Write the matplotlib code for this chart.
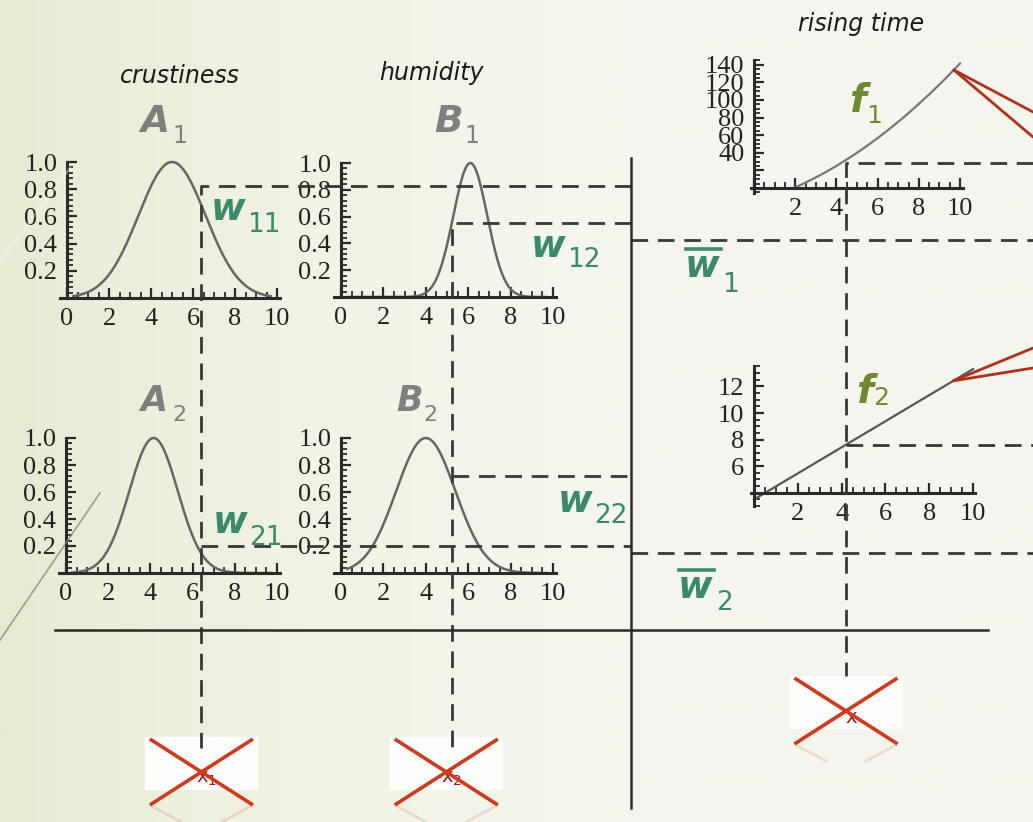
import numpy as np
import matplotlib.pyplot as plt
from matplotlib.ticker import MultipleLocator, FixedLocator, FixedFormatter

W, H = 1033, 822

# antecedent membership functions, gaussian (centre, spread)
A1 = (5.0, 1.6)
A2 = (4.15, 1.15)
B1 = (6.1, 0.8)
B2 = (4.0, 1.4)

# crisp inputs: crustiness, humidity, rising time
x1, x2, x3 = 6.4, 5.25, 4.2

# membership degrees carried across by the dashed guides
w11, w12 = 0.82, 0.55
w21, w22 = 0.20, 0.72
wbar1, wbar2 = 0.425, 0.15

# consequent functions of rising time
f1_coef = [0.9, 6.8, -16.5]
f2_coef = [0.98, 3.5]

memb_yticks = [0.2, 0.4, 0.6, 0.8, 1.0]
f1_yticks = [20, 40, 60, 80, 100, 120, 140]
f2_yticks = [6, 8, 10, 12]

GRAY = '#2a2a2a'
TEAL = '#3b8a6c'
OLIVE = '#6c8b2e'
LABEL = '#7f7f7f'
RED = '#cf3a1e'
DARKRED = '#b0301c'

fig = plt.figure(figsize=(W / 100, H / 100), dpi=100)

# soft cream background, greener on the left
bg = fig.add_axes([0, 0, 1, 1], zorder=0)
xs = np.linspace(0, 1, 400)
stops = [0, 0.3, 0.6, 1]
cols = np.array([[231, 235, 211], [241, 243, 229], [245, 246, 238], [245, 245, 238]]) / 255
grad = np.stack([np.interp(xs, stops, cols[:, k]) for k in range(3)], axis=-1)
bg.imshow(np.tile(grad, (10, 1, 1)), aspect='auto', extent=[0, 1, 0, 1])
bg.axis('off')


def gauss(x, c, s):
    return np.exp(-(x - c) ** 2 / (2 * s ** 2))


def add_panel(x0, sx, y0, sy, xlim, ylim):
    left, right = x0 + xlim[0] * sx, x0 + xlim[1] * sx
    top, bottom = y0 - ylim[1] * sy, y0 - ylim[0] * sy
    ax = fig.add_axes([left / W, 1 - bottom / H, (right - left) / W, (bottom - top) / H], zorder=2)
    ax.set_xlim(xlim)
    ax.set_ylim(ylim)
    ax.patch.set_alpha(0)
    for s in ['top', 'right']:
        ax.spines[s].set_visible(False)
    for s in ['left', 'bottom']:
        ax.spines[s].set_color(GRAY)
        ax.spines[s].set_linewidth(2.2)
    ax.tick_params(which='both', direction='in', color=GRAY, labelcolor='#222222',
                   labelsize=19, pad=7)
    ax.tick_params(which='major', length=7, width=1.6)
    ax.tick_params(which='minor', length=4, width=1.3)
    return ax


def memb_panel(x0, sx, y0, sy, mf):
    ax = add_panel(x0, sx, y0, sy, (-0.33, 10.15), (-0.01, 1.03))
    ax.spines['left'].set_position(('data', 0))
    ax.spines['left'].set_bounds(0, 1.0)
    ax.spines['bottom'].set_position(('data', 0))
    ax.xaxis.set_major_locator(MultipleLocator(2))
    ax.xaxis.set_minor_locator(MultipleLocator(0.5))
    ax.yaxis.set_major_locator(FixedLocator(memb_yticks))
    ax.yaxis.set_major_formatter(FixedFormatter(['%.1f' % v for v in memb_yticks]))
    ax.yaxis.set_minor_locator(MultipleLocator(0.04))
    xx = np.linspace(0.3, 9.7, 300)
    ax.plot(xx, gauss(xx, *mf), color='#666666', lw=1.8)
    return ax


axA1 = memb_panel(67, 21.0, 298, 136, A1)
axB1 = memb_panel(341, 21.2, 297, 134, B1)
axA2 = memb_panel(66, 21.1, 573, 135, A2)
axB2 = memb_panel(341, 21.2, 573, 135, B2)

# consequent f1
axf1 = add_panel(754, 20.6, 188, 0.88, (-0.15, 10.15), (-6, 146))
axf1.spines['left'].set_position(('data', 0))
axf1.spines['left'].set_bounds(-6, 145)
axf1.spines['bottom'].set_position(('data', 0))
axf1.xaxis.set_major_locator(FixedLocator([0, 2, 4, 6, 8, 10]))
axf1.xaxis.set_major_formatter(FixedFormatter(['', '2', '4', '6', '8', '10']))
axf1.xaxis.set_minor_locator(MultipleLocator(0.5))
axf1.yaxis.set_major_locator(FixedLocator(f1_yticks))
axf1.yaxis.set_major_formatter(FixedFormatter([''] + [str(v) for v in f1_yticks[1:]]))
axf1.yaxis.set_minor_locator(MultipleLocator(5))
tt = np.linspace(0, 10, 300)
f1v = np.polyval(f1_coef, tt)
axf1.plot(tt[f1v >= 0], f1v[f1v >= 0], color='#777777', lw=1.6)

# consequent f2
axf2 = add_panel(754, 21.9, 546, 13.3, (-0.15, 10.1), (3.0, 13.6))
axf2.spines['left'].set_position(('data', 0))
axf2.spines['left'].set_bounds(3.0, 13.5)
axf2.spines['bottom'].set_position(('data', 4))
axf2.xaxis.set_major_locator(FixedLocator([2, 4, 6, 8, 10]))
axf2.xaxis.set_minor_locator(MultipleLocator(0.5))
axf2.yaxis.set_major_locator(FixedLocator(f2_yticks))
axf2.yaxis.set_minor_locator(MultipleLocator(0.5))
axf2.plot(tt, np.polyval(f2_coef, tt), color='#555555', lw=1.6)

for ax in [axA1, axB1, axA2, axB2, axf1, axf2]:
    for lab in ax.get_xticklabels() + ax.get_yticklabels():
        lab.set_family('Liberation Serif')

# overlay in pixel coordinates for guides and labels
ov = fig.add_axes([0, 0, 1, 1], zorder=5)
ov.set_xlim(0, W)
ov.set_ylim(H, 0)
ov.axis('off')
ov.patch.set_alpha(0)


def px(ax, x, y):
    dx, dy = ax.transData.transform((x, y))
    return dx, H - dy


def dashed(pts):
    p = np.array(pts)
    ov.plot(p[:, 0], p[:, 1], color='#383838', lw=2.0, ls=(0, (6, 3.5)))


x_mid, y_mid = 631, 630
xa = px(axA1, x1, 0)[0]
xb = px(axB1, x2, 0)[0]
xt = px(axf2, x3, 4)[0]

dashed([(x_mid, px(axA1, x1, w11)[1]), (xa, px(axA1, x1, w11)[1]), (xa, 748)])
dashed([(x_mid, px(axB1, x2, w12)[1]), (xb, px(axB1, x2, w12)[1]), (xb, 748)])
dashed([(xa, px(axA2, x1, w21)[1]), (x_mid, px(axA2, x1, w21)[1])])
dashed([(xb, px(axB2, x2, w22)[1]), (x_mid, px(axB2, x2, w22)[1])])
dashed([(x_mid, px(axB1, 0, wbar1)[1]), (W, px(axB1, 0, wbar1)[1])])
dashed([(x_mid, px(axB2, 0, wbar2)[1]), (W, px(axB2, 0, wbar2)[1])])
yf1 = px(axf1, x3, np.polyval(f1_coef, x3))[1]
yf2 = px(axf2, x3, np.polyval(f2_coef, x3))[1]
dashed([(W, yf1), (xt, yf1), (xt, 676)])
dashed([(xt, yf2), (W, yf2)])

# solid dividers
ov.plot([x_mid, x_mid], [158, 808], color=GRAY, lw=1.8)
ov.plot([55, 988], [y_mid, y_mid], color=GRAY, lw=1.8)

# faint strokes on the left edge
ov.plot([0, 100], [640, 493], color='#8a8a78', lw=1.2, alpha=0.8)
ov.plot([0, 70], [262, 168], color='#fbfbf5', lw=2.0, alpha=0.35)

# red arrow lines from the consequents
for ax, coef, tend, ends in [(axf1, f1_coef, 9.7, [112, 137]), (axf2, f2_coef, 9.1, [348, 368])]:
    ex, ey = px(ax, tend, np.polyval(coef, tend))
    for e in ends:
        ov.plot([ex, W], [ey, e], color=DARKRED, lw=2.0, solid_capstyle='round')

# crossed-out inputs
for cx, cy, name in [(xa, 772, 'x$_1$'), (xb - 6, 772, 'x$_2$'), (xt, 711, 'x')]:
    ov.add_patch(plt.Rectangle((cx - 56, cy - 35), 112, 52, color='#fdfdfb', zorder=1))
    ov.text(cx + 5, cy + 6, name, color='#9b1c18', fontsize=14, ha='center', va='center', zorder=2)
    ov.plot([cx - 50, cx + 50], [cy - 32, cy + 32], color=RED, lw=2.6, zorder=3)
    ov.plot([cx - 50, cx + 50], [cy + 32, cy - 32], color=RED, lw=2.6, zorder=3)
    ov.plot([cx - 50, cx - 20], [cy + 34, cy + 50], color=RED, lw=2.0, alpha=0.15, zorder=3)
    ov.plot([cx + 50, cx + 20], [cy + 34, cy + 50], color=RED, lw=2.0, alpha=0.15, zorder=3)

# variable names
for x, y, s in [(180, 83, 'crustiness'), (431, 80, 'humidity'), (861, 31, 'rising time')]:
    ov.text(x, y, s, fontsize=17, fontstyle='italic', color='#1a1a1a', ha='center', va='baseline')


def sym(x, y, main, sub, color, size, subsize, dx, dy, bar=False):
    ov.text(x, y, main, color=color, fontsize=size, fontweight='bold',
            fontstyle='italic', ha='left', va='baseline', family='DejaVu Sans')
    ov.text(x + dx, y + dy, sub, color=color, fontsize=subsize, ha='left',
            va='baseline', family='DejaVu Sans')
    if bar:
        ov.plot([x + 1, x + 36], [y - 28, y - 28], color=color, lw=2.6)


sym(140, 132, 'A', '1', LABEL, 27, 17, 32, 11)
sym(434, 132, 'B', '1', LABEL, 27, 17, 30, 11)
sym(140, 411, 'A', '2', LABEL, 25, 16, 32, 10)
sym(396, 411, 'B', '2', LABEL, 25, 16, 27, 10)

sym(211, 220, 'w', '11', TEAL, 27, 19, 36, 12)
sym(531, 257, 'w', '12', TEAL, 27, 19, 36, 10)
sym(685, 277, 'w', '1', TEAL, 27, 19, 37, 15, bar=True)
sym(213, 533, 'w', '21', TEAL, 27, 19, 36, 12)
sym(558, 512, 'w', '22', TEAL, 27, 19, 36, 11)
sym(678, 598, 'w', '2', TEAL, 27, 19, 38, 12, bar=True)

sym(849, 112, 'f', '1', OLIVE, 28, 18, 17, 11)
sym(856, 403, 'f', '2', OLIVE, 28, 18, 17, 2)

fig.savefig('out.png', dpi=100)
